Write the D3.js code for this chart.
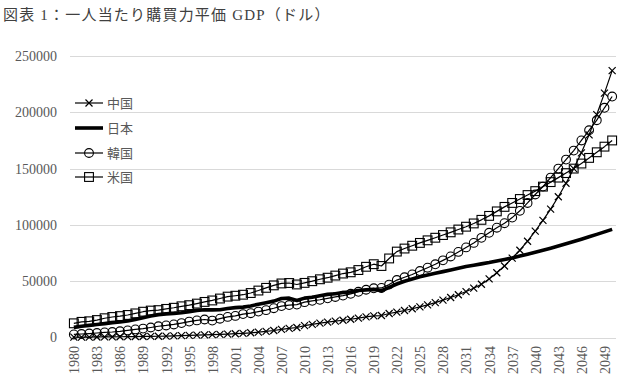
<!DOCTYPE html>
<html><head><meta charset="utf-8">
<script src="https://cdn.jsdelivr.net/npm/d3@7"></script>
<style>
html,body{margin:0;padding:0;background:#fff;}
svg{display:block;}
</style>
</head><body>
<svg id="chart" width="630" height="385"></svg>
<script>
const years = d3.range(1980, 2051);
const yTicks = [0, 50000, 100000, 150000, 200000, 250000];
const xTickYears = d3.range(1980, 2050, 3);
const seriesNames = ["中国", "日本", "韓国", "米国"];

const china = [310,350,400,450,530,610,670,760,860,920,
  980,1100,1280,1480,1700,1910,2120,2340,2540,2770,
  3060,3370,3730,4180,4720,5380,6220,7280,8060,8860,
  10500,11700,12700,13600,14500,15300,16200,17200,18300,19200,
  19500,21300,22500,24000,25500,27200,29000,31000,33200,35500,
  38000,40800,43800,47300,52000,57500,63500,70500,77500,85500,
  94500,104000,114000,125000,137000,150000,164000,180000,198000,217000,237000];
const japan = [9000,10000,10800,11500,12300,13200,13800,14700,16100,17500,
  19000,20300,21000,21400,22000,23000,24100,24700,24500,24700,
  25800,26500,27000,28000,29600,30900,32300,34600,35000,32800,
  35000,35800,37000,38300,38800,40000,40500,41700,42300,42700,
  41500,44500,47500,50000,52000,54000,55500,57000,58500,60000,
  61500,63000,64200,65400,66600,68000,69300,70600,72300,74000,
  75800,77500,79300,81200,83200,85200,87300,89400,91600,93800,96000];
const korea = [2700,3100,3500,4000,4500,4900,5500,6300,7200,7900,
  8900,10000,10700,11600,12800,14100,15200,16000,15000,16700,
  18300,19200,20800,21600,23000,24300,26000,27900,28800,29200,
  31400,32600,33500,34800,36000,37200,38800,40600,42400,43700,
  44000,47000,51000,53500,56000,59000,62000,65000,68500,72000,
  76000,80000,84000,88500,93000,97500,101500,106500,112500,119500,
  127000,134000,142000,150000,158000,166000,175000,184000,193000,204000,214000];
const usa = [12600,13900,14400,15500,17100,18200,19000,20000,21400,22900,
  23900,24300,25400,26400,27700,28700,30100,31600,32900,34600,
  36300,37100,38000,39500,41700,44100,46300,48000,48400,47100,
  48500,50000,51700,53100,55000,56800,57900,59900,62800,65100,
  63500,70200,76300,79000,81500,84000,86300,88600,91000,93400,
  95900,98400,101300,104500,108000,112000,116000,119500,123000,126500,
  130000,134000,138000,142000,146000,150000,154500,159500,164500,169500,175000];

const svg = d3.select("#chart");
const margin = {left: 70, right: 14, top: 56, bottom: 48};
const W = 630, H = 385;
const x = d3.scalePoint().domain(years).range([margin.left, W - margin.right]).padding(0.5);
const y = d3.scaleLinear().domain([0, 250000]).range([337.5, 56]);

const serif = "'Liberation Serif', 'Times New Roman', serif";
const jp = "'Liberation Serif', 'Noto Sans CJK JP', sans-serif";

// title
svg.append("text").attr("x", 3).attr("y", 20)
  .attr("font-family", jp).attr("font-size", 15).attr("fill", "#404040")
  .attr("letter-spacing", 1.2)
  .text("図表 1：一人当たり購買力平価 GDP（ドル）");

// gridlines
svg.append("g").selectAll("line").data(yTicks).join("line")
  .attr("x1", margin.left).attr("x2", W - margin.right)
  .attr("y1", d => Math.round(y(d)) + 0.5).attr("y2", d => Math.round(y(d)) + 0.5)
  .attr("stroke", "#d9d9d9").attr("stroke-width", 1);

// y axis labels
const yAxis = d3.axisLeft(y).tickValues(yTicks).tickSize(0).tickPadding(0).tickFormat(d3.format("d"));
const gy = svg.append("g").attr("transform", "translate(57,0)").call(yAxis);
gy.select(".domain").remove();
gy.selectAll("text").attr("font-family", serif).attr("font-size", 14).attr("fill", "#595959");

// x axis labels
const xAxis = d3.axisBottom(x).tickValues(xTickYears).tickSize(0).tickPadding(0);
const gx = svg.append("g").attr("transform", "translate(0,346)").call(xAxis);
gx.select(".domain").remove();
gx.selectAll("text").attr("font-family", serif).attr("font-size", 14).attr("fill", "#595959")
  .attr("transform", "rotate(-90)").attr("text-anchor", "end").attr("dx", "0").attr("dy", "0.35em")
  .attr("x", 0).attr("y", 0);

const line = d3.line().x((d, i) => x(years[i])).y(d => y(d));
const data = [
  {name: "中国", vals: china, marker: "x", width: 1.2},
  {name: "日本", vals: japan, marker: null, width: 3.6},
  {name: "韓国", vals: korea, marker: "o", width: 1.2},
  {name: "米国", vals: usa, marker: "s", width: 1.2}
];

function drawMarker(g, type, cx, cy) {
  if (type === "x") {
    const s = 3.5;
    g.append("path").attr("d", `M${cx-s},${cy-s}L${cx+s},${cy+s}M${cx-s},${cy+s}L${cx+s},${cy-s}`)
      .attr("stroke", "#000").attr("stroke-width", 1.2).attr("fill", "none");
  } else if (type === "o") {
    g.append("circle").attr("cx", cx).attr("cy", cy).attr("r", 4.4)
      .attr("stroke", "#000").attr("stroke-width", 1.1).attr("fill", "none");
  } else if (type === "s") {
    const s = 4.4;
    g.append("rect").attr("x", cx - s).attr("y", cy - s).attr("width", 2*s).attr("height", 2*s)
      .attr("stroke", "#000").attr("stroke-width", 1.1).attr("fill", "none");
  }
}

const order = [1, 3, 2, 0];
order.forEach(k => {
  const s = data[k];
  const g = svg.append("g");
  g.append("path").datum(s.vals).attr("d", line)
    .attr("fill", "none").attr("stroke", "#000").attr("stroke-width", s.width)
    .attr("stroke-linejoin", "round");
  if (s.marker) {
    s.vals.forEach((v, i) => drawMarker(g, s.marker, x(years[i]), y(v)));
  }
});

// legend
const legendY = [103, 128, 153, 177];
data.forEach((s, i) => {
  const g = svg.append("g");
  const ly = legendY[i];
  g.append("line").attr("x1", 75).attr("x2", 103).attr("y1", ly).attr("y2", ly)
    .attr("stroke", "#000").attr("stroke-width", s.width);
  if (s.marker) drawMarker(g, s.marker, 89, ly);
  g.append("text").attr("x", 107).attr("y", ly).attr("dy", "0.36em")
    .attr("font-family", "'Noto Sans CJK JP', sans-serif").attr("font-size", 13).attr("fill", "#595959")
    .text(s.name);
});
</script>
</body></html>
